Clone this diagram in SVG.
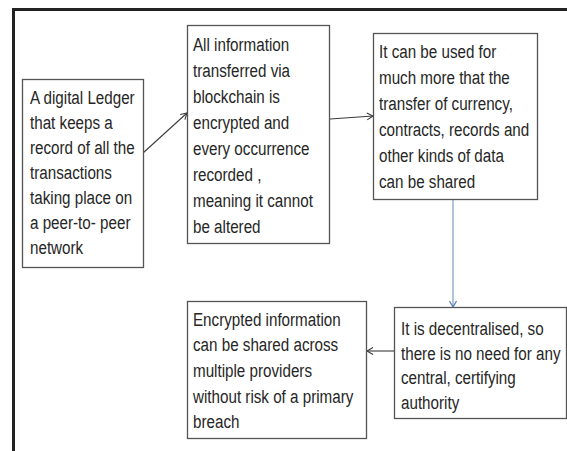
<svg xmlns="http://www.w3.org/2000/svg" width="567" height="451" viewBox="0 0 567 451">
<defs>
<style>
.box{fill:#fff;stroke:#555;stroke-width:1.3}
.t{font-family:"Liberation Sans",Arial,sans-serif;font-size:19px;fill:#262626}
.con{fill:none;stroke:#3a3a3a;stroke-width:1.1}
.blue{fill:none;stroke:#9bb5d8;stroke-width:1.6}
</style>
<marker id="ah" markerUnits="userSpaceOnUse" markerWidth="10" markerHeight="10" refX="7" refY="4" orient="auto">
<path d="M1,0.5 L7,4 L1,7.5" fill="none" stroke="#3a3a3a" stroke-width="1.1"/>
</marker>
<marker id="ahb" markerUnits="userSpaceOnUse" markerWidth="10" markerHeight="10" refX="7" refY="4" orient="auto">
<path d="M1,0.5 L7,4 L1,7.5" fill="none" stroke="#5b7fb8" stroke-width="1.3"/>
</marker>
</defs>
<rect width="567" height="451" fill="#fff"/>
<path d="M13.5,451 V9.5 H567" fill="none" stroke="#222" stroke-width="3"/>

<g id="connectors">
<line class="con" x1="143" y1="153" x2="187" y2="113" marker-end="url(#ah)"/>
<line class="con" x1="330" y1="119" x2="373" y2="116" marker-end="url(#ah)"/>
<line class="blue" x1="453" y1="200" x2="453" y2="307" marker-end="url(#ahb)"/>
<line class="con" x1="394" y1="351" x2="367" y2="351" marker-end="url(#ah)"/>
</g>

<g id="node1">
<rect class="box" x="22.5" y="79.5" width="121" height="188"/>
<g transform="scale(0.8 1)" class="t">
<text x="37.5" y="104" class="t">A digital Ledger</text>
<text x="37.5" y="129" class="t">that keeps a</text>
<text x="37.5" y="154" class="t">record of all the</text>
<text x="37.5" y="179" class="t">transactions</text>
<text x="37.5" y="204" class="t">taking place on</text>
<text x="37.5" y="229" class="t">a peer-to- peer</text>
<text x="37.5" y="254" class="t">network</text>
</g>
</g>

<g id="node2">
<rect class="box" x="187.5" y="25.5" width="142" height="218"/>
<g transform="scale(0.8 1)">
<text x="241.25" y="51" class="t">All information</text>
<text x="241.25" y="77" class="t">transferred via</text>
<text x="241.25" y="103" class="t">blockchain is</text>
<text x="241.25" y="129" class="t">encrypted and</text>
<text x="241.25" y="155" class="t">every occurrence</text>
<text x="241.25" y="181" class="t">recorded ,</text>
<text x="241.25" y="207" class="t">meaning it cannot</text>
<text x="241.25" y="233" class="t">be altered</text>
</g>
</g>

<g id="node3">
<rect class="box" x="373.5" y="33.5" width="164" height="166"/>
<g transform="scale(0.8 1)">
<text x="473.75" y="58" class="t">It can be used for</text>
<text x="473.75" y="84" class="t">much more that the</text>
<text x="473.75" y="110" class="t">transfer of currency,</text>
<text x="473.75" y="136" class="t">contracts, records and</text>
<text x="473.75" y="162" class="t">other kinds of data</text>
<text x="473.75" y="188" class="t">can be shared</text>
</g>
</g>

<g id="node4">
<rect class="box" x="394.5" y="307.5" width="172" height="111"/>
<g transform="scale(0.8 1)">
<text x="501.25" y="335" class="t">It is decentralised, so</text>
<text x="501.25" y="360" class="t">there is no need for any</text>
<text x="501.25" y="384" class="t">central, certifying</text>
<text x="501.25" y="409" class="t">authority</text>
</g>
</g>

<g id="node5">
<rect class="box" x="187.5" y="301.5" width="179" height="137"/>
<g transform="scale(0.8 1)">
<text x="241.25" y="326" class="t">Encrypted information</text>
<text x="241.25" y="351" class="t">can be shared across</text>
<text x="241.25" y="377" class="t">multiple providers</text>
<text x="241.25" y="403" class="t">without risk of a primary</text>
<text x="241.25" y="428" class="t">breach</text>
</g>
</g>
</svg>
